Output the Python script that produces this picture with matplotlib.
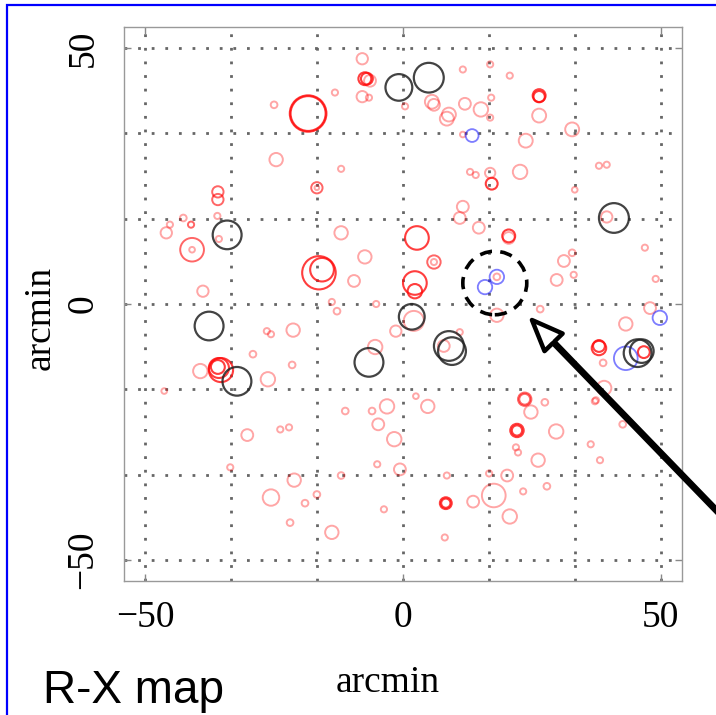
import matplotlib
matplotlib.use("Agg")
import matplotlib.pyplot as plt
from matplotlib.patches import Circle, Rectangle, FancyArrowPatch

W, H = 716, 715

# ---------------- data (arcmin): x, y, radius ----------------
bright_x = [-7.4, -7.0, -18.4, -18.4, 26.4, 26.4, -16.3, -15.7, 2.7, 2.3, 2.3, 17.2,
            -35.9, -35.7, -35.3, 38.0, 38.0, 46.7, 8.3, 8.3, 22.1, 22.1, 20.5]
bright_y = [44.0, 44.0, 37.2, 37.2, 40.7, 40.5, 6.1, 6.7, 12.9, 4.1, 2.5, 23.5,
            -12.3, -12.5, -12.9, -8.6, -8.2, -9.4, -38.9, -38.9, -24.7, -24.7, 13.3]
bright_r = [1.25, 1.15, 3.55, 3.4, 1.25, 1.1, 3.25, 2.3, 2.3, 2.3, 1.4, 1.15,
            1.35, 1.95, 2.35, 1.4, 1.15, 1.15, 1.15, 0.9, 1.3, 1.0, 1.25]

medium_x = [-41.1, -40.9, 23.6, 23.6, 6.0, -16.7, -35.9, -35.9]
medium_y = [15.5, 10.6, -18.6, -18.6, 8.2, 22.7, 21.9, 20.4]
medium_r = [0.6, 2.3, 1.3, 1.05, 1.3, 1.1, 1.1, 1.1]

pale_x = [-7.9, -6.4, -7.9, -6.6, -13.2, -25.0, -24.6, 0.4, 5.6, 6.0, 11.6, 16.9, 20.7,
          12.0, 15.1, 8.9, 8.5, 17.1, 16.9, 26.4, 32.8, 11.6, 23.8, 38.0, 39.5, -12.0,
          -16.7, -36.0, -42.6, -45.2, -45.9, -40.9, -35.7, -12.0, -7.4, -9.5, -38.8,
          13.0, 14.1, 16.9, 22.7, 33.3, 11.6, 11.0, 14.7, 20.5, 39.5, 46.9, 49.0, 6.0,
          18.2, 31.2, 32.8, 29.8, 33.1, -26.4, -25.6, -21.3, -29.1, -21.5, -39.3, -26.2,
          -46.3, -12.8, -13.8, -5.4, -1.4, -3.1, -11.2, -6.0, -4.8, -30.2, -23.8, -22.1,
          -1.7, 2.1, 7.9, 11.0, 18.2, 26.6, 43.2, 47.9, 38.8, 37.2, 39.0, 2.5, 4.8, 27.5,
          24.8, 29.7, 42.6, -5.0, -0.6, -3.7, 8.5, 13.6, 17.6, 20.7, 8.1, 16.7, 20.2, 23.3,
          27.9, 26.2, 22.3, 21.9, 36.4, 38.2, 37.4, -33.5, -21.1, -25.6, -19.0, -16.7,
          -21.9, -13.8, -12.0, -5.2]
pale_y = [47.9, 43.6, 40.5, 40.3, 41.3, 38.9, 28.2, 38.6, 39.5, 38.9, 45.8, 46.8, 44.6,
          39.1, 38.0, 37.0, 36.2, 40.3, 36.4, 36.8, 34.1, 33.1, 31.9, 27.0, 27.2, 26.4,
          22.7, 17.2, 16.8, 15.5, 13.9, 10.6, 12.7, 13.9, 9.2, 4.5, 2.5,
          25.8, 25.2, 25.6, 25.8, 22.3, 19.0, 16.8, 14.9, 12.9, 17.0, 11.0, 4.9, 8.2,
          5.3, 8.4, 10.0, 4.7, 5.7, -5.3, -5.9, -5.1, -9.8, -11.9, -13.1, -14.7,
          -17.0, -1.4, 0.4, -8.4, -5.3, -20.0, -20.9, -20.9, -23.5, -25.6, -24.5, -24.1,
          -26.4, -3.3, -8.2, -5.5, -2.2, -1.0, -3.9, -0.8, -11.5, -19.0, -16.4, -18.0, -20.0, -19.2,
          -21.1, -24.9, -23.5, -31.3, -32.3, -40.1, -33.5, -38.6, -37.4, -41.5, -45.6, -33.1, -33.5, -36.6,
          -35.6, -30.5, -29.0, -28.0, -27.4, -30.5, -18.8, -31.9, -34.4, -37.8, -38.9, -37.2,
          -42.7, -44.6, -33.5, 0.0]
pale_r = [1.1, 1.15, 1.1, 0.6, 0.6, 0.65, 1.3, 0.6, 1.35, 1.15, 0.6, 0.6, 0.6,
          1.15, 1.4, 1.35, 1.35, 0.6, 0.6, 1.35, 1.35, 0.55, 1.35, 0.6, 0.6, 0.6,
          0.45, 0.6, 0.65, 0.6, 1.1, 0.55, 0.6, 1.3, 1.3, 1.15, 1.1,
          0.6, 0.6, 1.0, 1.4, 0.55, 1.15, 1.15, 1.15, 1.15, 1.1, 0.6, 0.6, 0.6,
          0.65, 1.15, 0.65, 1.15, 0.6, 0.6, 0.6, 1.3, 0.65, 0.65, 1.4, 1.4,
          0.55, 0.65, 0.6, 1.4, 1.1, 1.4, 0.65, 0.65, 1.15, 1.15, 0.6, 0.6,
          1.4, 1.95, 1.15, 0.6, 1.3, 0.65, 1.3, 1.15, 0.65, 0.6, 1.4, 0.55, 1.3, 0.65,
          1.3, 1.4, 0.65, 0.6, 1.15, 0.6, 0.6, 1.15, 2.3, 1.4, 0.6, 0.6, 1.15, 0.6,
          0.65, 1.3, 0.6, 0.6, 0.6, 0.6, 0.6, 0.6, 1.3, 1.6, 0.65, 0.65,
          0.65, 1.3, 0.65, 0.6]

black_x = [-0.8, 5.0, -34.1, -37.6, -32.2, -6.6, 1.7, 8.9, 9.5, 40.9, 45.5, 46.3]
black_y = [42.3, 44.2, 13.5, -4.3, -15.1, -11.4, -2.5, -8.2, -9.2, 16.8, -9.6, -9.2]
black_r = [2.6, 2.9, 2.8, 2.8, 2.8, 2.8, 2.5, 2.9, 2.7, 2.9, 2.7, 2.3]

blue_x = [13.4, 18.2, 15.9, 49.8, 43.2]
blue_y = [32.9, 5.3, 3.3, -2.7, -10.6]
blue_r = [1.25, 1.4, 1.4, 1.4, 2.3]

highlight = (17.8, 4.1, 6.2)  # dashed circle (x, y, r)

ticks = [-50, 0, 50]
tick_labels = ["\u221250", "0", "50"]
grid_pos = [-50, -100 / 6, -100 / 3, 0, 100 / 6, 100 / 3, 50]
lim = 54.1

# ---------------- figure ----------------
fig = plt.figure(figsize=(W / 100, H / 100), dpi=100)
fig.patch.set_facecolor("white")


def fx(x):
    return x / W


def fy(y):
    return 1 - y / H


ax = fig.add_axes([fx(124), fy(581), (682 - 124) / W, (581 - 27) / H])
ax.set_xlim(-lim, lim)
ax.set_ylim(-lim, lim)

for g in grid_pos:
    ax.axvline(g, color="#666666", lw=2.0, ls=(0, (1, 3.9)), zorder=1)
    ax.axhline(g, color="#666666", lw=2.0, ls=(0, (1, 3.9)), zorder=1)


def draw(xs, ys, rs, color, alpha, lw, ls="-"):
    for x, y, r in zip(xs, ys, rs):
        ax.add_patch(Circle((x, y), r, fill=False, edgecolor=color, alpha=alpha,
                            lw=lw, ls=ls, zorder=3))


draw(pale_x, pale_y, pale_r, (1, 0, 0), 0.35, 1.4)
draw(medium_x, medium_y, medium_r, (1, 0, 0), 0.6, 1.4)
draw(bright_x, bright_y, bright_r, (1, 0.05, 0.05), 0.8, 1.5)
draw(blue_x, blue_y, blue_r, (0.15, 0.15, 1), 0.6, 1.3)
draw(black_x, black_y, black_r, "#222222", 0.85, 1.6)
ax.add_patch(Circle(highlight[:2], highlight[2], fill=False, edgecolor="black",
                    lw=2.6, ls=(0, (3.4, 2.3)), zorder=4))

for s in ax.spines.values():
    s.set_color("#999999")
    s.set_linewidth(1.0)

ax.set_xticks(ticks)
ax.set_yticks(ticks)
ax.set_xticklabels(tick_labels, family="Liberation Serif", fontsize=27)
ax.set_yticklabels(tick_labels, family="Liberation Serif", fontsize=27,
                   rotation=90, va="center")
ax.tick_params(direction="in", length=5, width=1, color="#888888",
               top=True, right=True)
ax.tick_params(axis="x", pad=14)
ax.tick_params(axis="y", pad=17)

fig.text(fx(388), fy(683), "arcmin", family="Liberation Serif", fontsize=27,
         ha="center", va="center")
fig.text(fx(40), fy(318), "arcmin", family="Liberation Serif", fontsize=27,
         ha="center", va="center", rotation=90)
fig.text(fx(43), fy(703), "R-X map", family="Liberation Sans", fontsize=33,
         ha="left", va="baseline")

# arrow
arr = FancyArrowPatch((fx(745), fy(540)), (fx(530), fy(318)),
                      transform=fig.transFigure,
                      arrowstyle="simple,head_length=1.6,head_width=1.3,tail_width=0.12",
                      mutation_scale=14, facecolor="white", edgecolor="black",
                      lw=3.2, zorder=10)
fig.patches.append(arr)

# blue border
fig.patches.append(Rectangle((fx(7), fy(730)), (740 - 7) / W, (730 - 5) / H,
                             transform=fig.transFigure, fill=False,
                             edgecolor="#0000ff", lw=1.6, zorder=11))

fig.savefig("out.png", dpi=100)
